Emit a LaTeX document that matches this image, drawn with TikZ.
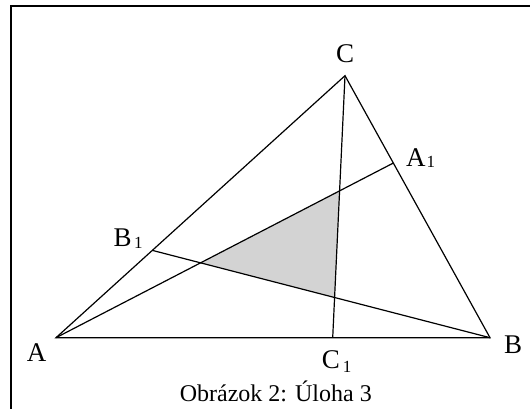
\documentclass[tikz,border=0pt]{standalone}
\usepackage{fontspec}
\setmainfont{Liberation Serif}
\usetikzlibrary{calc}
\definecolor{shade}{RGB}{211,211,211}
\newcommand{\ix}[3]{\kern#1\raisebox{-#2}{\fontsize{17}{17}\selectfont #3}}
\tikzset{
  side/.style={line width=1.2pt},
  cevian/.style={line width=1.2pt},
  frameline/.style={line width=1.3pt},
  innerfill/.style={fill=shade},
  vertexlabel/.style={inner sep=0pt, font=\fontsize{27}{27}\selectfont},
  captiontext/.style={inner sep=0pt, font=\fontsize{24}{24}\selectfont}
}

\begin{document}
\begin{tikzpicture}[x=1pt, y=-1pt]
\useasboundingbox (0,0) rectangle (530,409);
\draw[frameline] (11,409) -- (11,6) -- (530,6);

% vertices and division points
\coordinate (A) at (56,337.7);
\coordinate (B) at (490,337.7);
\coordinate (C) at (345,75.7);
\coordinate (A1) at ($(C)!1/3!(B)$);
\coordinate (B1) at ($(A)!1/3!(C)$);
\coordinate (C1) at (332.7,337.7);

% inner triangle
\coordinate (P) at (intersection of A--A1 and B--B1);
\coordinate (Q) at (intersection of A--A1 and C--C1);
\coordinate (R) at (intersection of B--B1 and C--C1);
\fill[innerfill] (P) -- (Q) -- (R) -- cycle;

\draw[side] (A) -- (B) -- (C) -- cycle;
\draw[cevian] (A) -- (A1);
\draw[cevian] (B) -- (B1);
\draw[cevian] (C) -- (C1);

% labels
\node[vertexlabel, anchor=base] (lA) at (36.7,361.7) {A};
\node[vertexlabel, anchor=base] (lB) at (513,353.3) {B};
\node[vertexlabel, anchor=base] (lC) at (345,62.7) {C};
\node[vertexlabel, anchor=base west] (lA1) at (406,166.7) {A\ix{1pt}{1.3pt}{1}};
\node[vertexlabel, anchor=base west] (lB1) at (113.3,246.7) {B\ix{2.5pt}{1.6pt}{1}};
\node[vertexlabel, anchor=base west] (lC1) at (321.7,368.3) {C\ix{3pt}{4.4pt}{1}};

\node[captiontext, anchor=base] (cap) at (275.8,401.7) {Obrázok 2: Úloha 3};
\end{tikzpicture}
\end{document}
